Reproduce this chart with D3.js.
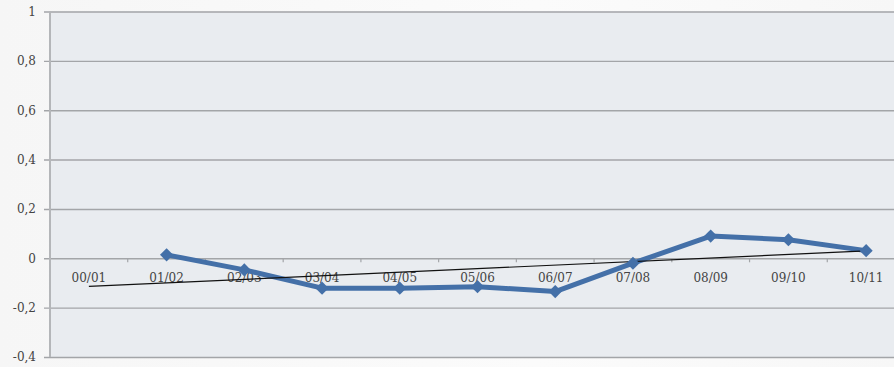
<!DOCTYPE html>
<html>
<head>
<meta charset="utf-8">
<script src="https://cdn.jsdelivr.net/npm/d3@7"></script>
<style>
  html, body { margin: 0; padding: 0; }
  body { width: 894px; height: 367px; overflow: hidden;
         background: linear-gradient(90deg, #f6f6f6 0%, #fbfbfb 60%, #f7f7f7 100%); }
  svg { display: block; }
</style>
</head>
<body>
<svg id="chart" width="894" height="367"></svg>
<script>
// Seasons on the category axis
const categories = ["00/01", "01/02", "02/03", "03/04", "04/05", "05/06", "06/07", "07/08", "08/09", "09/10", "10/11"];
// Series values (first season has no value)
const values = [null, 0.014, -0.047, -0.121, -0.121, -0.115, -0.135, -0.02, 0.09, 0.075, 0.031];
// Linear trend line: value at first and last season
const trendEnds = [-0.114, 0.030];
// Value axis ticks
const yTicks = [-0.4, -0.2, 0, 0.2, 0.4, 0.6, 0.8, 1];

const svg = d3.select("#chart");
const plotL = 50, plotR = 905, plotT = 11.5, plotB = 357;

const x = d3.scaleBand().domain(categories).range([plotL, plotR]).paddingInner(0).paddingOuter(0);
const cx = c => x(c) + x.bandwidth() / 2;
const y = d3.scaleLinear().domain([-0.4, 1]).range([plotB, plotT]);

const fmt = v => (v === 0 ? "0" : String(+v.toFixed(1)).replace(".", ","));
const labelFont = "'DejaVu Serif', 'Liberation Serif', serif";

// Plot area
svg.append("rect")
  .attr("x", plotL).attr("y", plotT)
  .attr("width", plotR - plotL).attr("height", plotB - plotT)
  .attr("fill", "#e9ecf0");

// Horizontal gridlines + value axis
const yAxis = d3.axisLeft(y).tickValues(yTicks).tickSize(-(plotR - plotL)).tickSizeOuter(0).tickFormat(fmt).tickPadding(14);
const gy = svg.append("g").attr("transform", `translate(${plotL},0)`).call(yAxis);
gy.select(".domain").remove();
gy.selectAll(".tick line").attr("stroke", "#a3a5a8").attr("stroke-width", 1.4).attr("x1", -6);
gy.selectAll(".tick text")
  .attr("fill", "#444")
  .attr("font-family", labelFont)
  .attr("font-size", 12);

// Left axis line
svg.append("line")
  .attr("x1", plotL).attr("x2", plotL).attr("y1", plotT).attr("y2", plotB)
  .attr("stroke", "#b4b6b9").attr("stroke-width", 2);

// Category axis along zero
const xAxis = d3.axisBottom(x).tickSize(0).tickSizeOuter(0).tickPadding(15);
const gx = svg.append("g").attr("transform", `translate(0,${y(0)})`).call(xAxis);
gx.select(".domain").remove();
gx.selectAll(".tick text")
  .attr("fill", "#444")
  .attr("font-family", labelFont)
  .attr("font-size", 12);

// Small tick marks on the zero line at category boundaries
svg.append("g").selectAll("line")
  .data(categories.slice(1))
  .join("line")
  .attr("x1", d => x(d)).attr("x2", d => x(d))
  .attr("y1", y(0)).attr("y2", y(0) + 4)
  .attr("stroke", "#a3a5a8").attr("stroke-width", 1.2);

// Series line
const pts = categories.map((c, i) => ({ c, v: values[i] })).filter(d => d.v !== null);
svg.append("path")
  .datum(pts)
  .attr("fill", "none")
  .attr("stroke", "#4470a8")
  .attr("stroke-width", 5)
  .attr("stroke-linejoin", "round")
  .attr("d", d3.line().x(d => cx(d.c)).y(d => y(d.v)));

// Trend line
svg.append("line")
  .attr("x1", cx(categories[0])).attr("y1", y(trendEnds[0]))
  .attr("x2", cx(categories[categories.length - 1])).attr("y2", y(trendEnds[1]))
  .attr("stroke", "#111").attr("stroke-width", 1.2);

// Diamond markers
svg.append("g").selectAll("path")
  .data(pts)
  .join("path")
  .attr("transform", d => `translate(${cx(d.c)},${y(d.v)})`)
  .attr("d", d3.symbol(d3.symbolDiamond2, 110)())
  .attr("fill", "#4470a8");
</script>
</body>
</html>
